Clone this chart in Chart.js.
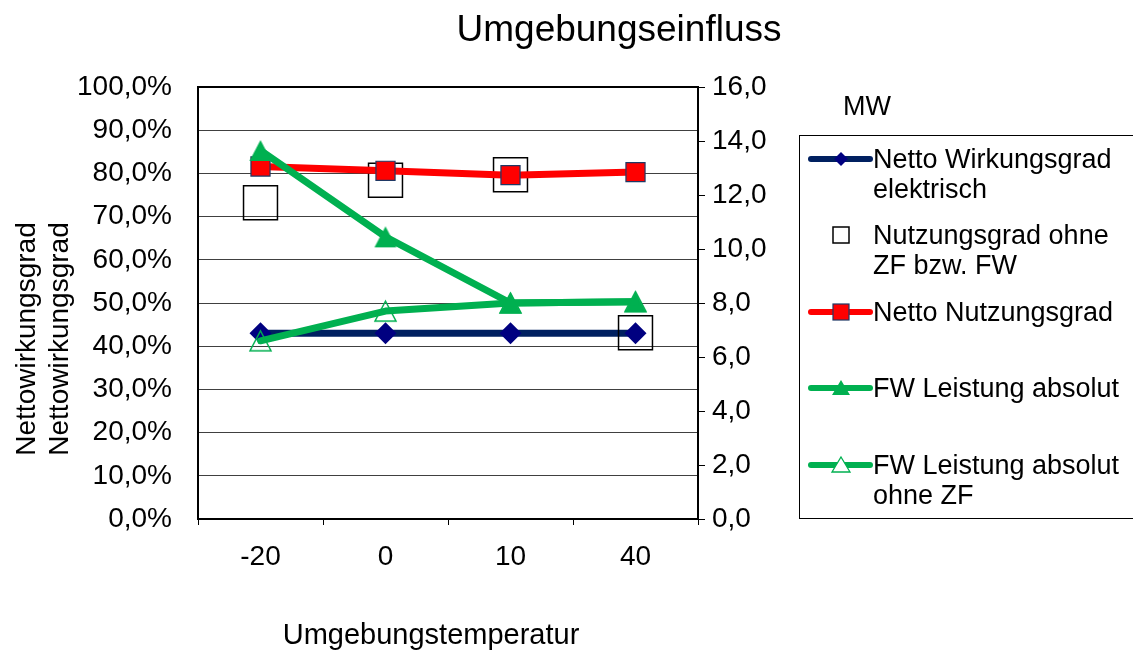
<!DOCTYPE html>
<html>
<head>
<meta charset="utf-8">
<script src="https://cdn.jsdelivr.net/npm/chart.js@4.4.1/dist/chart.umd.min.js"></script>
<style>
  html, body { margin: 0; padding: 0; background: #fff; }
</style>
</head>
<body>
<canvas id="myChart" width="1133" height="652"></canvas>
<script>
// data
const temperatures = ['-20', '0', '10', '40'];
const nettoWirkungsgrad = [43.0, 43.0, 43.0, 43.0];     // %
const nutzungsgradOhneZF = [73.2, 78.4, 79.7, 43.1];    // %
const nettoNutzungsgrad = [81.6, 80.6, 79.6, 80.3];     // %
const fwLeistung = [13.65, 10.45, 8.0, 8.05];           // MW
const fwLeistungOhneZF = [6.6, 7.7, 8.0, 8.05];         // MW

const FONT = 'Arial, "Liberation Sans", sans-serif';
const NAVY = '#002060', DIAMOND = '#000080', RED = '#ff0000', GREEN = '#00b050', SQ_EDGE = '#1f3864';

// triangle markers centred on their box, like the original
const makeTriangle = (w, h, fill, stroke, lw) => {
  const c = document.createElement('canvas');
  c.width = w + 4; c.height = h + 4;
  const g = c.getContext('2d');
  g.beginPath();
  g.moveTo(c.width / 2, 2);
  g.lineTo(c.width - 2, h + 2);
  g.lineTo(2, h + 2);
  g.closePath();
  if (fill) { g.fillStyle = fill; g.fill(); }
  if (stroke) { g.strokeStyle = stroke; g.lineWidth = lw; g.stroke(); }
  return c;
};
const triFilled = makeTriangle(22, 21, GREEN, null, 0);
const triOpen = makeTriangle(21, 20, null, GREEN, 1.5);

const fmt = (v, d) => v.toFixed(d).replace('.', ',');

// draw title, axis titles, frame and the legend box
const decorations = {
  id: 'decorations',
  beforeDatasetsDraw(chart) {
    const { ctx, chartArea: a } = chart;
    ctx.save();
    ctx.strokeStyle = '#000';
    ctx.lineWidth = 2;
    ctx.beginPath();
    ctx.moveTo(a.left - 1, a.top);
    ctx.lineTo(a.right + 1, a.top);
    ctx.stroke();
    ctx.restore();
  },
  afterDraw(chart) {
    const ctx = chart.ctx;
    ctx.save();
    ctx.fillStyle = '#000';
    ctx.textBaseline = 'alphabetic';

    ctx.font = '37px ' + FONT;
    ctx.textAlign = 'center';
    ctx.fillText('Umgebungseinfluss', 619, 41);

    ctx.font = '29px ' + FONT;
    ctx.fillText('Umgebungstemperatur', 431, 644);

    ctx.save();
    ctx.translate(0, 339);
    ctx.rotate(-Math.PI / 2);
    ctx.font = '28px ' + FONT;
    ctx.fillText('Nettowirkungsgrad', 0, 35);
    ctx.fillText('Nettowirkungsgrad', 0, 68);
    ctx.restore();

    ctx.textAlign = 'left';
    ctx.font = '27px ' + FONT;
    ctx.fillText('MW', 843, 115);

    // legend
    ctx.strokeStyle = '#000';
    ctx.lineWidth = 1;
    ctx.strokeRect(799.5, 135.5, 400, 383);

    const rows = [159, 235, 312, 388, 465];
    const mx = 841;
    chart.data.datasets.forEach((ds, i) => {
      const y = rows[i];
      if (ds.showLine !== false) {
        ctx.strokeStyle = ds.borderColor;
        ctx.lineWidth = 6;
        ctx.lineCap = 'round';
        ctx.beginPath();
        ctx.moveTo(811, y);
        ctx.lineTo(870, y);
        ctx.stroke();
      }
      ctx.lineCap = 'butt';
      if (ds.legendMarker === 'diamond') {
        ctx.fillStyle = DIAMOND;
        ctx.beginPath();
        ctx.moveTo(mx, y - 7); ctx.lineTo(mx + 7, y); ctx.lineTo(mx, y + 7); ctx.lineTo(mx - 7, y);
        ctx.closePath(); ctx.fill();
      } else if (ds.legendMarker === 'openSquare') {
        ctx.strokeStyle = '#000'; ctx.lineWidth = 1.5;
        ctx.strokeRect(mx - 8, y - 8, 16, 16);
      } else if (ds.legendMarker === 'square') {
        ctx.fillStyle = RED; ctx.fillRect(mx - 8, y - 8, 16, 16);
        ctx.strokeStyle = SQ_EDGE; ctx.lineWidth = 1.2; ctx.strokeRect(mx - 8, y - 8, 16, 16);
      } else if (ds.legendMarker === 'tri' || ds.legendMarker === 'openTri') {
        ctx.beginPath();
        ctx.moveTo(mx, y - 8); ctx.lineTo(mx + 9, y + 7); ctx.lineTo(mx - 9, y + 7); ctx.closePath();
        if (ds.legendMarker === 'tri') { ctx.fillStyle = GREEN; ctx.fill(); }
        else { ctx.fillStyle = '#fff'; ctx.fill(); ctx.strokeStyle = GREEN; ctx.lineWidth = 1.3; ctx.stroke(); }
      }
      ctx.fillStyle = '#000';
      ctx.font = '27px ' + FONT;
      const lines = Array.isArray(ds.label) ? ds.label : [ds.label];
      lines.forEach((t, k) => ctx.fillText(t, 873, y + 9 + k * 30));
    });
    ctx.restore();
  }
};

const ctx = document.getElementById('myChart').getContext('2d');
const myChart = new Chart(ctx, {
  type: 'line',
  data: {
    labels: temperatures,
    datasets: [
      {
        label: ['Netto Wirkungsgrad', 'elektrisch'],
        data: nettoWirkungsgrad,
        yAxisID: 'y',
        borderColor: NAVY, borderWidth: 7,
        pointStyle: 'rectRot', pointRadius: 11,
        pointBackgroundColor: DIAMOND, pointBorderColor: DIAMOND, pointBorderWidth: 0,
        legendMarker: 'diamond', order: 5
      },
      {
        label: ['Nutzungsgrad ohne', 'ZF bzw. FW'],
        data: nutzungsgradOhneZF,
        yAxisID: 'y',
        showLine: false,
        borderColor: '#000',
        pointStyle: 'rect', pointRadius: 24,
        pointBackgroundColor: 'rgba(0,0,0,0)', pointBorderColor: '#000', pointBorderWidth: 1.5,
        legendMarker: 'openSquare', order: 4
      },
      {
        label: 'Netto Nutzungsgrad',
        data: nettoNutzungsgrad,
        yAxisID: 'y',
        borderColor: RED, borderWidth: 7,
        pointStyle: 'rect', pointRadius: 13.5,
        pointBackgroundColor: RED, pointBorderColor: SQ_EDGE, pointBorderWidth: 1.2,
        legendMarker: 'square', order: 3
      },
      {
        label: 'FW Leistung absolut',
        data: fwLeistung,
        yAxisID: 'y1',
        borderColor: GREEN, borderWidth: 7,
        pointStyle: triFilled, pointRadius: 11,
        legendMarker: 'tri', order: 2
      },
      {
        label: ['FW Leistung absolut', 'ohne ZF'],
        data: fwLeistungOhneZF,
        yAxisID: 'y1',
        borderColor: GREEN, borderWidth: 7,
        pointStyle: triOpen, pointRadius: 11,
        legendMarker: 'openTri', order: 1
      }
    ]
  },
  options: {
    responsive: false,
    animation: false,
    events: [],
    elements: { line: { tension: 0, borderJoinStyle: 'round', borderCapStyle: 'round' } },
    layout: { padding: { top: 87, left: 0, right: 0, bottom: 0 } },
    plugins: { legend: { display: false }, title: { display: false }, tooltip: { enabled: false } },
    scales: {
      x: {
        type: 'category',
        offset: true,
        grid: { offset: true, drawOnChartArea: false, drawTicks: true, tickLength: 6, color: '#000', lineWidth: 1 },
        border: { display: true, color: '#000', width: 2 },
        ticks: { font: { size: 28, family: FONT }, color: '#000', padding: 15, maxRotation: 0 },
        afterFit: s => { s.height = 133; }
      },
      y: {
        position: 'left',
        min: 0, max: 100,
        ticks: { stepSize: 10, callback: v => fmt(v, 1) + '%', font: { size: 28, family: FONT }, color: '#000', padding: 26 },
        grid: { color: '#404040', lineWidth: 1, drawTicks: false },
        border: { color: '#000', width: 2 },
        afterFit: s => { s.width = 198; }
      },
      y1: {
        position: 'right',
        min: 0, max: 16,
        ticks: { stepSize: 2, callback: v => fmt(v, 1), font: { size: 28, family: FONT }, color: '#000', padding: 7 },
        grid: { drawOnChartArea: false, drawTicks: true, tickLength: 7, color: '#000', lineWidth: 1 },
        border: { color: '#000', width: 2 },
        afterFit: s => { s.width = 435; }
      }
    }
  },
  plugins: [decorations]
});
</script>
</body>
</html>
